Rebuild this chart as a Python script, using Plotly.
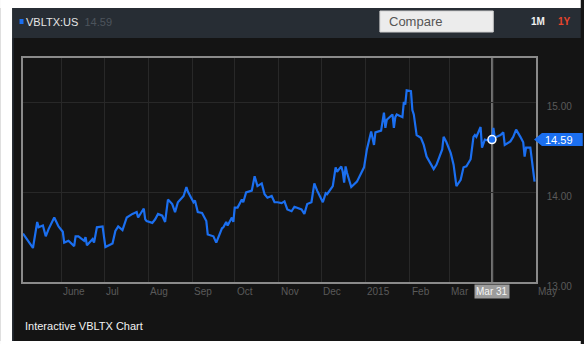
import plotly.graph_objects as go

# ---------------- data ----------------
dates = [
    "2014-05-05", "2014-05-08", "2014-05-12", "2014-05-15", "2014-05-16", "2014-05-19", "2014-05-21",
    "2014-05-23", "2014-05-27", "2014-05-30", "2014-06-02", "2014-06-03", "2014-06-06", "2014-06-10",
    "2014-06-11", "2014-06-13", "2014-06-17", "2014-06-18", "2014-06-19", "2014-06-23", "2014-06-24",
    "2014-06-26", "2014-06-30", "2014-07-02", "2014-07-07", "2014-07-09", "2014-07-11", "2014-07-14",
    "2014-07-17", "2014-07-21", "2014-07-24", "2014-07-25", "2014-07-29", "2014-07-30", "2014-07-31",
    "2014-08-04", "2014-08-06", "2014-08-08", "2014-08-11", "2014-08-13", "2014-08-15", "2014-08-18",
    "2014-08-20", "2014-08-22", "2014-08-26", "2014-08-28", "2014-08-29", "2014-09-02", "2014-09-03",
    "2014-09-05", "2014-09-08", "2014-09-11", "2014-09-12", "2014-09-16", "2014-09-18", "2014-09-22",
    "2014-09-23", "2014-09-25", "2014-09-26", "2014-09-29", "2014-09-30", "2014-10-01", "2014-10-03",
    "2014-10-06", "2014-10-07", "2014-10-09", "2014-10-13", "2014-10-15", "2014-10-17", "2014-10-20",
    "2014-10-22", "2014-10-24", "2014-10-27", "2014-10-29", "2014-10-31", "2014-11-03", "2014-11-05",
    "2014-11-07", "2014-11-10", "2014-11-12", "2014-11-14", "2014-11-17", "2014-11-19", "2014-11-21",
    "2014-11-24", "2014-11-26", "2014-11-28", "2014-12-02", "2014-12-04", "2014-12-05", "2014-12-09",
    "2014-12-11", "2014-12-12", "2014-12-15", "2014-12-16", "2014-12-17", "2014-12-18", "2014-12-19",
    "2014-12-22", "2014-12-26", "2014-12-31", "2015-01-02", "2015-01-05", "2015-01-07", "2015-01-08",
    "2015-01-12", "2015-01-14", "2015-01-15", "2015-01-16", "2015-01-20", "2015-01-21", "2015-01-22",
    "2015-01-23", "2015-01-27", "2015-01-28", "2015-01-29", "2015-01-30", "2015-02-02", "2015-02-03",
    "2015-02-04", "2015-02-06", "2015-02-09", "2015-02-11", "2015-02-13", "2015-02-18", "2015-02-20",
    "2015-02-24", "2015-02-25", "2015-02-27", "2015-03-02", "2015-03-04", "2015-03-06", "2015-03-09",
    "2015-03-11", "2015-03-13", "2015-03-16", "2015-03-18", "2015-03-19", "2015-03-20", "2015-03-23",
    "2015-03-24", "2015-03-26", "2015-03-30", "2015-03-31", "2015-04-01", "2015-04-02", "2015-04-06",
    "2015-04-08", "2015-04-09", "2015-04-13", "2015-04-15", "2015-04-17", "2015-04-20", "2015-04-22",
    "2015-04-23", "2015-04-24", "2015-04-27", "2015-04-29", "2015-04-30",
]
prices = [
    13.54, 13.47, 13.38, 13.67, 13.61, 13.63, 13.51,
    13.59, 13.72, 13.62, 13.56, 13.44, 13.46, 13.40,
    13.51, 13.51, 13.46, 13.50, 13.41, 13.48, 13.44,
    13.61, 13.62, 13.39, 13.43, 13.57, 13.62, 13.58,
    13.72, 13.76, 13.78, 13.72, 13.82, 13.70, 13.68,
    13.66, 13.70, 13.76, 13.74, 13.67, 13.92, 13.87,
    13.78, 13.89, 13.96, 14.06, 14.01, 13.89, 13.91,
    13.78, 13.77, 13.68, 13.53, 13.51, 13.44, 13.60,
    13.61, 13.67, 13.63, 13.72, 13.67, 13.83, 13.83,
    13.92, 13.89, 14.00, 14.02, 14.18, 14.07, 14.10,
    13.98, 13.94, 13.96, 13.89, 13.89, 13.88, 13.90,
    13.81, 13.79, 13.84, 13.83, 13.81, 13.76, 13.87,
    13.89, 14.10, 14.02, 13.89, 13.99, 13.98, 14.07,
    14.28, 14.23, 14.29, 14.23, 14.11, 14.29, 14.22,
    14.06, 14.12, 14.28, 14.48, 14.68, 14.53, 14.67,
    14.69, 14.89, 14.72, 14.81, 14.87, 14.72, 14.84,
    14.87, 14.84, 15.01, 14.98, 15.14, 15.13, 14.92,
    14.87, 14.64, 14.61, 14.53, 14.40, 14.26, 14.31,
    14.48, 14.62, 14.56, 14.44, 14.31, 14.07, 14.14,
    14.28, 14.29, 14.37, 14.62, 14.64, 14.62, 14.73,
    14.50, 14.59, 14.57, 14.59, 14.72, 14.61, 14.64,
    14.67, 14.53, 14.57, 14.62, 14.70, 14.62, 14.56,
    14.40, 14.50, 14.50, 14.26, 14.12,
]

month_ticks = ["2014-06-01", "2014-07-01", "2014-08-01", "2014-09-01", "2014-10-01", "2014-11-01",
               "2014-12-01", "2015-01-01", "2015-02-01", "2015-03-01", "2015-05-01"]
month_labels = ["June", "Jul", "Aug", "Sep", "Oct", "Nov", "Dec", "2015", "Feb", "Mar", "May"]
grid_months = ["2014-06-01", "2014-07-01", "2014-08-01", "2014-09-01", "2014-10-01", "2014-11-01",
               "2014-12-01", "2015-01-01", "2015-02-01", "2015-03-01", "2015-04-01"]
y_ticks = [13, 14, 15]
y_labels = ["13.00", "14.00", "15.00"]

hover_date = "2015-03-31"
hover_label = "Mar 31"
hover_value = 14.59
ticker = "VBLTX:US"
last_label = "14.59"
title_text = "Interactive VBLTX Chart"

# ---------------- geometry (pixels) ----------------
W, H = 584, 344
L, R, T, B = 23, 539, 58, 282
PW, PH = R - L, B - T


def px(x):
    return (x - L) / PW


def py(y):
    return (B - y) / PH


FONT = "Liberation Sans, Arial, Helvetica, sans-serif"
BLUE = "#1b6ff0"
PANEL = "#141414"
HEADER = "#272d34"

fig = go.Figure()
fig.add_trace(go.Scatter(
    x=dates, y=prices, mode="lines",
    line=dict(color=BLUE, width=2.2), hoverinfo="skip", showlegend=False,
))
# hover marker
fig.add_trace(go.Scatter(
    x=[hover_date], y=[hover_value], mode="markers",
    marker=dict(size=8, color=BLUE, line=dict(color="white", width=1.5)),
    hoverinfo="skip", showlegend=False,
))

shapes = []
# white surroundings
shapes.append(dict(type="rect", xref="paper", yref="paper", x0=px(0), x1=px(W), y0=py(0), y1=py(8),
                   fillcolor="white", line_width=0, layer="above"))
shapes.append(dict(type="rect", xref="paper", yref="paper", x0=px(0), x1=px(12), y0=py(0), y1=py(H),
                   fillcolor="white", line_width=0, layer="above"))
shapes.append(dict(type="rect", xref="paper", yref="paper", x0=px(0), x1=px(W), y0=py(341), y1=py(H),
                   fillcolor="white", line_width=0, layer="above"))
# header bar
shapes.append(dict(type="rect", xref="paper", yref="paper", x0=px(12), x1=px(W), y0=py(8), y1=py(38),
                   fillcolor=HEADER, line_width=0, layer="below"))
# left thin edge
shapes.append(dict(type="rect", xref="paper", yref="paper", x0=px(12), x1=px(14), y0=py(38), y1=py(341),
                   fillcolor="#1d2329", line_width=0, layer="below"))
# compare box
shapes.append(dict(type="path", xref="paper", yref="paper",
                   path="M {a},{b} L {c},{b} L {c},{d} L {a},{d} Z".format(
                       a=px(382), b=py(11), c=px(496), d=py(32)),
                   fillcolor="#ececec", line=dict(color="#d0d0d0", width=1), layer="above"))
# blue square
shapes.append(dict(type="rect", xref="paper", yref="paper", x0=px(19.5), x1=px(23.5), y0=py(19), y1=py(24),
                   fillcolor=BLUE, line_width=0, layer="above"))
# crosshair
shapes.append(dict(type="line", xref="x", yref="paper", x0=hover_date, x1=hover_date, y0=0, y1=1,
                   line=dict(color="#8a8a8a", width=1.5), layer="below"))
# price flag
shapes.append(dict(type="path", xref="paper", yref="paper",
                   path="M {x0},{ym} L {x1},{yt} L {x2},{yt} L {x2},{yb} L {x1},{yb} Z".format(
                       x0=px(537), x1=px(545), x2=px(W + 2), ym=py(139.5), yt=py(133), yb=py(146)),
                   fillcolor=BLUE, line_width=0, layer="above"))

annotations = []
for d, lab in zip(month_ticks, month_labels):
    annotations.append(dict(x=d, xref="x", y=py(291), yref="paper", text=lab, showarrow=False,
                            xanchor="left", yanchor="middle", xshift=0,
                            font=dict(family=FONT, size=10, color="#5a5a5a")))
annotations.append(dict(x=hover_date, xref="x", y=py(291), yref="paper", text=hover_label, showarrow=False,
                        xanchor="center", yanchor="middle", bgcolor="#9c9c9c", borderpad=1,
                        font=dict(family=FONT, size=10, color="#f4f4f4")))
annotations.append(dict(x=px(546), xref="paper", y=py(139.5), yref="paper", text=last_label, showarrow=False,
                        xanchor="left", yanchor="middle",
                        font=dict(family=FONT, size=11, color="white")))
annotations.append(dict(x=px(24), xref="paper", y=py(22), yref="paper",
                        text="<span style='color:#e6e6e6'>" + ticker + "</span>  <span style='color:#4d545c'>" + last_label + "</span>",
                        showarrow=False, xanchor="left", yanchor="middle",
                        font=dict(family=FONT, size=11, color="#e6e6e6")))
annotations.append(dict(x=px(389), xref="paper", y=py(21.5), yref="paper", text="Compare", showarrow=False,
                        xanchor="left", yanchor="middle",
                        font=dict(family=FONT, size=13, color="#555555")))
annotations.append(dict(x=px(532), xref="paper", y=py(21), yref="paper", text="<b>1M</b>", showarrow=False,
                        xanchor="left", yanchor="middle",
                        font=dict(family=FONT, size=10, color="#f0f0f0")))
annotations.append(dict(x=px(559), xref="paper", y=py(21), yref="paper", text="<b>1Y</b>", showarrow=False,
                        xanchor="left", yanchor="middle",
                        font=dict(family=FONT, size=10, color="#e8452c")))
annotations.append(dict(x=px(23), xref="paper", y=py(326), yref="paper", text=title_text, showarrow=False,
                        xanchor="left", yanchor="middle",
                        font=dict(family=FONT, size=11, color="#f2f2f2")))

fig.update_layout(
    width=W, height=H,
    margin=dict(l=L, r=W - R, t=T, b=H - B, pad=0),
    paper_bgcolor=PANEL, plot_bgcolor=PANEL,
    hovermode=False, showlegend=False,
    shapes=shapes, annotations=annotations,
    xaxis=dict(
        type="date", range=["2014-05-05", "2015-05-01"],
        tickvals=grid_months, showticklabels=False, ticks="",
        showgrid=True, gridcolor="#282828", gridwidth=1,
        showline=True, mirror=True, linecolor="#8a8a8a", linewidth=1.5,
        zeroline=False, fixedrange=True,
    ),
    yaxis=dict(
        range=[13.0, 15.5], side="right",
        tickvals=y_ticks, ticktext=y_labels, ticks="",
        tickfont=dict(family=FONT, size=10, color="#5a5a5a"),
        ticklabelstandoff=7, ticklabelshift=4,
        showgrid=True, gridcolor="#282828", gridwidth=1,
        showline=True, mirror=True, linecolor="#8a8a8a", linewidth=1.5,
        zeroline=False, fixedrange=True,
    ),
)

fig.write_html("out.html", config={"displayModeBar": False})
